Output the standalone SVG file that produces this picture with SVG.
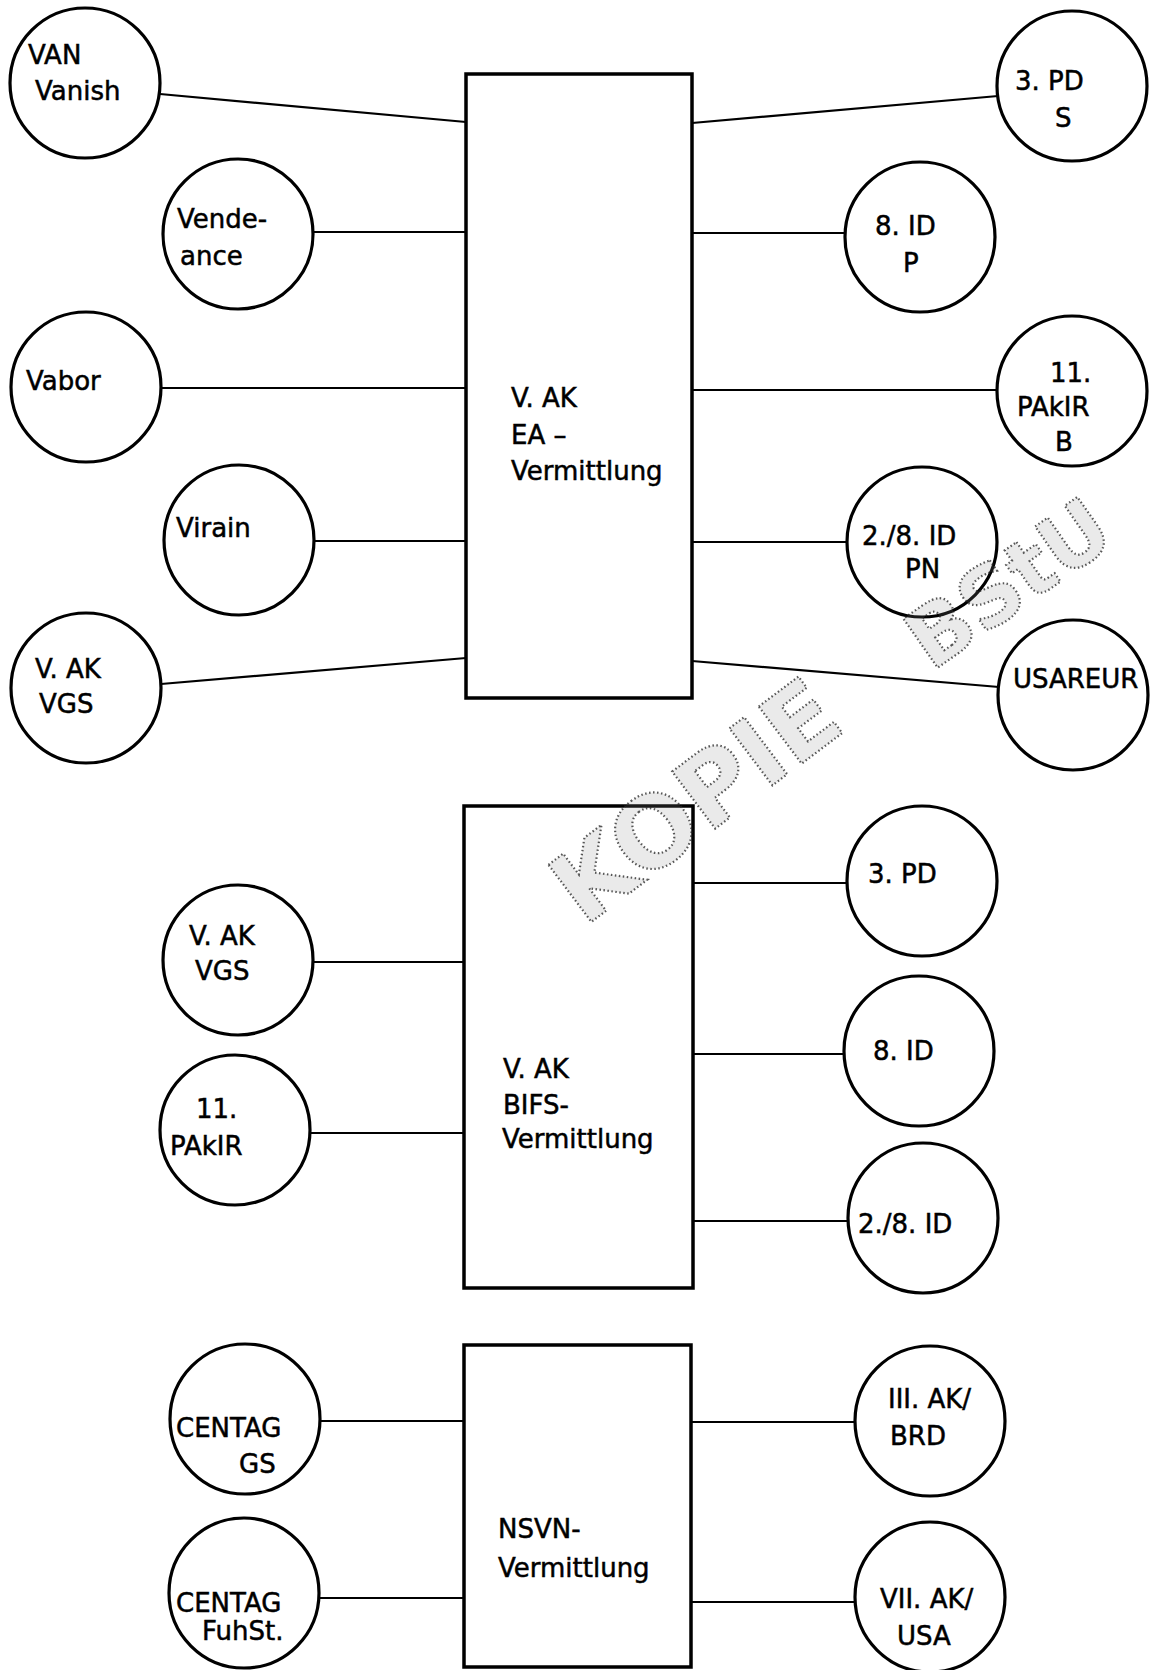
<svg xmlns="http://www.w3.org/2000/svg" width="1152" height="1670" viewBox="0 0 1152 1670">
<style>
.bg{fill:#fff}
.node circle{fill:#fff;stroke:#000;stroke-width:3.2}
.box rect{fill:#fff;stroke:#000;stroke-width:3.5}
#connectors line{stroke:#000;stroke-width:2.2}
text{font-family:"DejaVu Sans","Liberation Sans",sans-serif;font-size:26px;fill:#000;stroke:#000;stroke-width:0.5}
.stamp text{font-weight:bold;font-size:98px;fill:#888;fill-opacity:0.18;stroke:#222;stroke-width:2.2;stroke-dasharray:1.5 2.5;stroke-opacity:0.75;text-anchor:middle}
.stamp text.small{font-size:82px}
</style>
<rect class="bg" x="0" y="0" width="1152" height="1670"/>
<g id="connectors">
<line x1="160" y1="94" x2="466" y2="122"/>
<line x1="314" y1="232" x2="466" y2="232"/>
<line x1="161" y1="388" x2="466" y2="388"/>
<line x1="314" y1="541" x2="466" y2="541"/>
<line x1="161" y1="684" x2="466" y2="658"/>
<line x1="692" y1="123" x2="998" y2="96"/>
<line x1="692" y1="233" x2="845" y2="233"/>
<line x1="692" y1="390" x2="997" y2="390"/>
<line x1="692" y1="542" x2="847" y2="542"/>
<line x1="692" y1="661" x2="999" y2="687"/>
<line x1="313" y1="962" x2="464" y2="962"/>
<line x1="310" y1="1133" x2="464" y2="1133"/>
<line x1="693" y1="883" x2="847" y2="883"/>
<line x1="693" y1="1054" x2="844" y2="1054"/>
<line x1="693" y1="1221" x2="848" y2="1221"/>
<line x1="320" y1="1421" x2="464" y2="1421"/>
<line x1="319" y1="1598" x2="464" y2="1598"/>
<line x1="691" y1="1422" x2="855" y2="1422"/>
<line x1="691" y1="1602" x2="855" y2="1602"/>
</g>
<g id="ea-vermittlung" class="box">
<rect x="466" y="74" width="226" height="624"/>
<text x="511" y="407">V. AK</text>
<text x="511" y="444">EA –</text>
<text x="511" y="480">Vermittlung</text>
</g>
<g id="bifs-vermittlung" class="box">
<rect x="464" y="806" width="229" height="482"/>
<text x="503" y="1078">V. AK</text>
<text x="503" y="1114">BIFS-</text>
<text x="502" y="1148">Vermittlung</text>
</g>
<g id="nsvn-vermittlung" class="box">
<rect x="464" y="1345" width="227" height="322"/>
<text x="498" y="1538">NSVN-</text>
<text x="498" y="1577">Vermittlung</text>
</g>
<g id="van-vanish" class="node"><circle cx="85" cy="83" r="75"/><text x="28" y="64">VAN</text><text x="35" y="100">Vanish</text></g>
<g id="vendeance" class="node"><circle cx="238" cy="234" r="75"/><text x="177" y="228">Vende-</text><text x="180" y="265">ance</text></g>
<g id="vabor" class="node"><circle cx="86" cy="387" r="75"/><text x="26" y="390">Vabor</text></g>
<g id="virain" class="node"><circle cx="239" cy="540" r="75"/><text x="176" y="537">Virain</text></g>
<g id="vak-vgs-1" class="node"><circle cx="86" cy="688" r="75"/><text x="35" y="678">V. AK</text><text x="39" y="713">VGS</text></g>
<g id="pd3-s" class="node"><circle cx="1072" cy="86" r="75"/><text x="1015" y="90">3. PD</text><text x="1055" y="127">S</text></g>
<g id="id8-p" class="node"><circle cx="920" cy="237" r="75"/><text x="875" y="235">8. ID</text><text x="903" y="272">P</text></g>
<g id="pakir11-b" class="node"><circle cx="1072" cy="391" r="75"/><text x="1050" y="382">11.</text><text x="1017" y="416">PAkIR</text><text x="1055" y="451">B</text></g>
<g id="id28-pn" class="node"><circle cx="922" cy="542" r="75"/><text x="862" y="545">2./8. ID</text><text x="905" y="578">PN</text></g>
<g id="usareur" class="node"><circle cx="1073" cy="695" r="75"/><text x="1013" y="688">USAREUR</text></g>
<g id="vak-vgs-2" class="node"><circle cx="238" cy="960" r="75"/><text x="189" y="945">V. AK</text><text x="195" y="980">VGS</text></g>
<g id="pakir11" class="node"><circle cx="235" cy="1130" r="75"/><text x="196" y="1118">11.</text><text x="170" y="1155">PAkIR</text></g>
<g id="pd3" class="node"><circle cx="922" cy="881" r="75"/><text x="868" y="883">3. PD</text></g>
<g id="id8" class="node"><circle cx="919" cy="1051" r="75"/><text x="873" y="1060">8. ID</text></g>
<g id="id28" class="node"><circle cx="923" cy="1218" r="75"/><text x="858" y="1233">2./8. ID</text></g>
<g id="centag-gs" class="node"><circle cx="245" cy="1419" r="75"/><text x="176" y="1437">CENTAG</text><text x="239" y="1473">GS</text></g>
<g id="centag-fuhst" class="node"><circle cx="244" cy="1593" r="75"/><text x="176" y="1612">CENTAG</text><text x="202" y="1640">FuhSt.</text></g>
<g id="iii-ak-brd" class="node"><circle cx="930" cy="1421" r="75"/><text x="888" y="1408">III. AK/</text><text x="890" y="1445">BRD</text></g>
<g id="vii-ak-usa" class="node"><circle cx="930" cy="1597" r="75"/><text x="880" y="1608">VII. AK/</text><text x="897" y="1645">USA</text></g>
<g id="stamp" class="stamp">
<text x="695" y="835" transform="rotate(-37 695 800)">KOPIE</text>
<text class="small" x="1008" y="612" transform="rotate(-35 1008 583)">BStU</text>
</g>
</svg>
